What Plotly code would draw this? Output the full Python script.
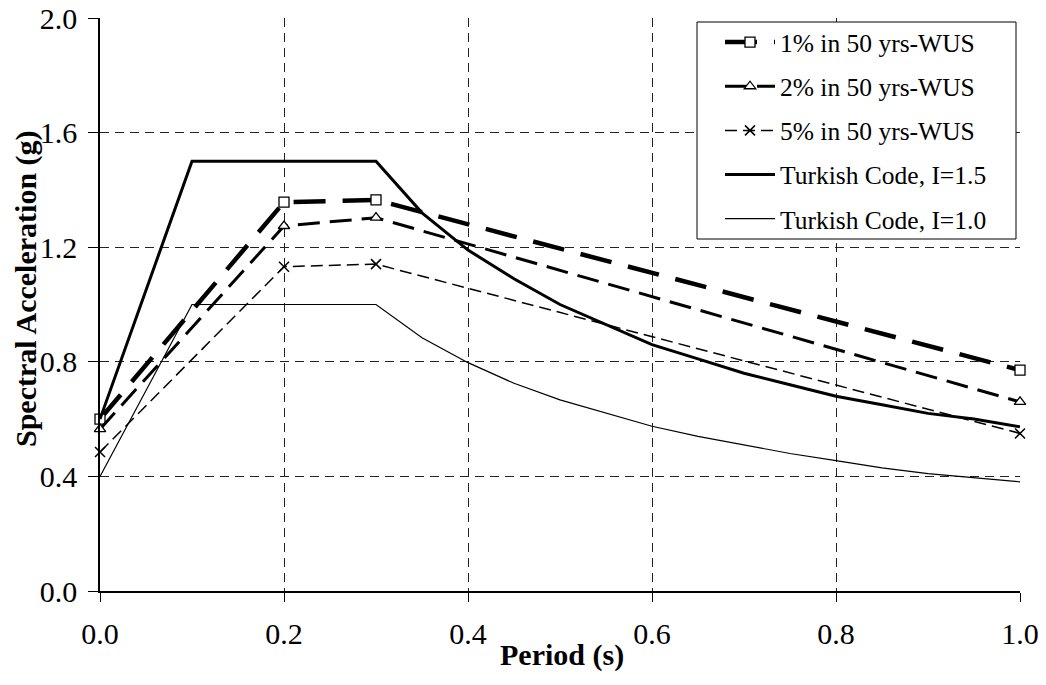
import plotly.graph_objects as go

# ---- data ----
period_wus = [0.0, 0.2, 0.3, 1.0]
sa_1pct = [0.600, 1.357, 1.365, 0.771]
sa_2pct = [0.565, 1.274, 1.303, 0.660]
sa_5pct = [0.485, 1.132, 1.141, 0.550]

period_code = [0.0, 0.1, 0.3, 0.35, 0.4, 0.45, 0.5, 0.55, 0.6, 0.65, 0.7,
               0.75, 0.8, 0.85, 0.9, 0.95, 1.0]
sa_code_15 = [0.60, 1.50, 1.50, 1.32, 1.19, 1.09, 1.00, 0.93, 0.86, 0.81,
              0.76, 0.72, 0.68, 0.65, 0.62, 0.60, 0.573]
sa_code_10 = [0.40, 1.00, 1.00, 0.884, 0.797, 0.725, 0.667, 0.62, 0.575,
              0.54, 0.51, 0.48, 0.455, 0.43, 0.41, 0.395, 0.381]

x_ticks = [0.0, 0.2, 0.4, 0.6, 0.8, 1.0]
y_ticks = [0.0, 0.4, 0.8, 1.2, 1.6, 2.0]

names = ["1% in 50 yrs-WUS", "2% in 50 yrs-WUS", "5% in 50 yrs-WUS",
         "Turkish Code, I=1.5", "Turkish Code, I=1.0"]

FONT = "Liberation Serif, Times New Roman, serif"

fig = go.Figure()

fig.add_trace(go.Scatter(
    x=period_wus, y=sa_1pct, name=names[0], legendgroup="a", mode="lines+markers",
    line=dict(color="black", width=4.5, dash="32px,17px"),
    marker=dict(symbol="square", size=10, color="white",
                line=dict(color="black", width=1.3)),
    cliponaxis=False))
fig.add_trace(go.Scatter(
    x=period_wus, y=sa_2pct, name=names[1], legendgroup="b", mode="lines+markers",
    line=dict(color="black", width=3, dash="22px,10px"),
    marker=dict(symbol="triangle-up", size=10, color="white",
                line=dict(color="black", width=1.3)),
    cliponaxis=False))
fig.add_trace(go.Scatter(
    x=period_wus, y=sa_5pct, name=names[2], legendgroup="c", mode="lines+markers",
    line=dict(color="black", width=1.5, dash="12px,6px"),
    marker=dict(symbol="x-thin", size=10, color="black",
                line=dict(color="black", width=1.5)),
    cliponaxis=False))
fig.add_trace(go.Scatter(
    x=period_code, y=sa_code_15, name=names[3], legendgroup="d", mode="lines",
    line=dict(color="black", width=3), cliponaxis=False))
fig.add_trace(go.Scatter(
    x=period_code, y=sa_code_10, name=names[4], legendgroup="e", mode="lines",
    line=dict(color="black", width=1.2), cliponaxis=False))

grid = dict(showgrid=True, gridcolor="#222222", gridwidth=1, griddash="9px,6px")

fig.update_xaxes(
    range=[0, 1.0], tickvals=x_ticks, ticktext=[f"{v:.1f}" for v in x_ticks],
    showline=True, linecolor="black", linewidth=1.5, mirror=False,
    ticks="outside", ticklen=9, tickwidth=1.2, tickcolor="black",
    zeroline=False, ticklabelstandoff=6, automargin=False,
    tickfont=dict(family=FONT, size=30, color="black"), **grid)
fig.update_yaxes(
    range=[0, 2.0], tickvals=y_ticks, ticktext=[f"{v:.1f}" for v in y_ticks],
    showline=True, linecolor="black", linewidth=1.5, mirror=False,
    ticks="outside", ticklen=10, tickwidth=1.2, tickcolor="black",
    zeroline=False, ticklabelstandoff=5, automargin=False,
    tickfont=dict(family=FONT, size=30, color="black"), **grid)

# legend box
fig.add_shape(type="rect", xref="paper", yref="paper",
              x0=(697 - 100) / 920, x1=(1016 - 100) / 920,
              y0=(591 - 239) / 573, y1=(591 - 22) / 573,
              line=dict(color="black", width=1), fillcolor="white", layer="above")

fig.update_layout(
    width=1046, height=685,
    margin=dict(l=100, r=26, t=18, b=94, autoexpand=False),
    paper_bgcolor="white", plot_bgcolor="white",
    font=dict(family=FONT, color="black"),
    showlegend=True,
    legend=dict(x=(720 - 100) / 920, y=(591 - 19) / 573, xanchor="left", yanchor="top",
                bgcolor="rgba(0,0,0,0)", borderwidth=0,
                font=dict(family=FONT, size=25.5, color="black"),
                itemwidth=50, tracegroupgap=8, traceorder="grouped"),
    annotations=[
        dict(text="<b>Spectral Acceleration (g)</b>", textangle=-90,
             xref="paper", yref="paper", x=(26 - 100) / 920, y=(591 - 289) / 573,
             xanchor="center", yanchor="middle", showarrow=False,
             font=dict(family=FONT, size=30, color="black")),
        dict(text="<b>Period (s)</b>",
             xref="paper", yref="paper", x=(562 - 100) / 920, y=(591 - 655) / 573,
             xanchor="center", yanchor="middle", showarrow=False,
             font=dict(family=FONT, size=30, color="black")),
    ],
)

fig.write_html("out.html")
